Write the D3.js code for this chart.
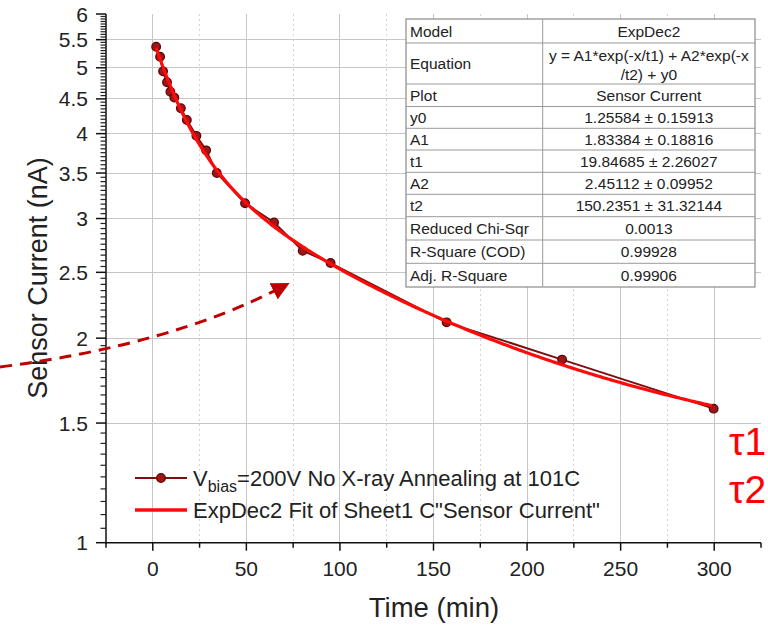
<!DOCTYPE html>
<meta charset="utf-8">
<style>
body { margin: 0; background: #fff; }
svg text { font-family: "Liberation Sans", Arial, sans-serif; }
.grid line { shape-rendering: crispEdges; }
</style>
<body>
<script src="https://d3js.org/d3.v7.min.js"></script>
<script>

// measured points (Time in min, Sensor Current in nA)
var times = [1.8, 3.9, 5.5, 7.6, 9.4, 11.5, 15, 18.2, 23.3, 28.5, 34.2, 49.3, 64.8, 80.1, 95, 157, 218.7, 299.7];
var currents = [5.37, 5.19, 4.94, 4.76, 4.61, 4.52, 4.36, 4.19, 3.97, 3.78, 3.50, 3.16, 2.96, 2.69, 2.58, 2.11, 1.86, 1.575];

// ExpDec2 fit parameters
var fitNames = ["y0", "A1", "t1", "A2", "t2"];
var fitValues = [1.25584, 1.83384, 19.84685, 2.45112, 150.2351];

var tableLabels = ["Model", "Equation", "Plot", "y0", "A1", "t1", "A2", "t2", "Reduced Chi-Sqr", "R-Square (COD)", "Adj. R-Square"];
var tableValues = ["ExpDec2", ["y = A1*exp(-x/t1) + A2*exp(-x", "/t2) + y0"], "Sensor Current",
  "1.25584 ± 0.15913", "1.83384 ± 0.18816", "19.84685 ± 2.26027", "2.45112 ± 0.09952",
  "150.2351 ± 31.32144", "0.0013", "0.99928", "0.99906"];

var xMajor = [0, 50, 100, 150, 200, 250, 300];
var yMajor = [1, 1.5, 2, 2.5, 3, 3.5, 4, 4.5, 5, 5.5, 6];

var width = 768, height = 629;
var svg = d3.select("body").append("svg").attr("width", width).attr("height", height);

var x = d3.scaleLinear().domain([-25, 325]).range([106, 761]);
var y = d3.scaleLog().domain([1, 6]).range([542.7, 14]);

var xMinor = d3.range(-25, 326, 25).filter(function(d) { return xMajor.indexOf(d) < 0; });
var yMinor = d3.range(20, 121, 1).map(function(d) { return d / 20; }).filter(function(d) { return Math.round(d * 2) !== d * 2; });

// grid
var grid = svg.append("g").attr("class", "grid");
grid.selectAll(".vmin").data(xMinor.filter(function(d) { return d > -25 && d < 325; })).enter().append("line")
    .attr("x1", x).attr("x2", x).attr("y1", y(6)).attr("y2", y(1))
    .attr("stroke", "#d4d4d4").attr("stroke-dasharray", "2,3");
grid.selectAll(".vmaj").data(xMajor).enter().append("line")
    .attr("x1", x).attr("x2", x).attr("y1", y(6)).attr("y2", y(1))
    .attr("stroke", "#c6c6c6");
grid.selectAll(".hmaj").data(yMajor.filter(function(d) { return d > 1 && d < 6; })).enter().append("line")
    .attr("x1", x(-25)).attr("x2", x(325)).attr("y1", y).attr("y2", y)
    .attr("stroke", "#c6c6c6");

// fit table
var tx0 = 406, tx1 = 542.7, tx2 = 755;
var rowEdges = [19, 43, 84, 106.5, 128.3, 150, 172.3, 194.3, 216.7, 240, 263.3, 287];
var table = svg.append("g");
table.append("rect").attr("x", tx0).attr("y", rowEdges[0]).attr("width", tx2 - tx0)
    .attr("height", rowEdges[11] - rowEdges[0]).attr("fill", "#fff").attr("stroke", "#8a8a8a").attr("stroke-width", 1.2);
table.selectAll(".rl").data(rowEdges.slice(1, 11)).enter().append("line")
    .attr("x1", tx0).attr("x2", tx2).attr("y1", function(d) { return d; }).attr("y2", function(d) { return d; })
    .attr("stroke", "#9a9a9a");
table.append("line").attr("x1", tx1).attr("x2", tx1).attr("y1", rowEdges[0]).attr("y2", rowEdges[11]).attr("stroke", "#9a9a9a");
tableLabels.forEach(function(lab, i) {
  var cy = (rowEdges[i] + rowEdges[i + 1]) / 2;
  table.append("text").attr("x", tx0 + 4).attr("y", cy + 5.5).attr("font-size", 15.5).attr("fill", "#222").text(lab);
  var v = tableValues[i];
  if (Array.isArray(v)) {
    table.append("text").attr("x", (tx1 + tx2) / 2).attr("y", cy - 3).attr("text-anchor", "middle")
        .attr("font-size", 15.5).attr("fill", "#222").text(v[0]);
    table.append("text").attr("x", (tx1 + tx2) / 2).attr("y", cy + 16).attr("text-anchor", "middle")
        .attr("font-size", 15.5).attr("fill", "#222").text(v[1]);
  } else {
    table.append("text").attr("x", (tx1 + tx2) / 2).attr("y", cy + 5.5).attr("text-anchor", "middle")
        .attr("font-size", 15.5).attr("fill", "#222").text(v);
  }
});

// axes
var axisG = svg.append("g");
axisG.append("line").attr("x1", x(-25)).attr("x2", x(325)).attr("y1", y(1)).attr("y2", y(1)).attr("stroke", "#111").attr("stroke-width", 1.5);
axisG.append("line").attr("x1", x(-25)).attr("x2", x(-25)).attr("y1", y(1) + 1).attr("y2", y(6)).attr("stroke", "#111").attr("stroke-width", 1.5);

axisG.selectAll(".xt").data(xMajor).enter().append("line")
    .attr("x1", x).attr("x2", x).attr("y1", y(1)).attr("y2", y(1) + 8).attr("stroke", "#111").attr("stroke-width", 1.5);
axisG.selectAll(".xm").data(xMinor).enter().append("line")
    .attr("x1", x).attr("x2", x).attr("y1", y(1)).attr("y2", y(1) + 5).attr("stroke", "#111").attr("stroke-width", 1.5);
axisG.selectAll(".xl").data(xMajor).enter().append("text")
    .attr("x", x).attr("y", y(1) + 33).attr("text-anchor", "middle").attr("font-size", 21).attr("fill", "#222")
    .text(function(d) { return d; });

axisG.selectAll(".yt").data(yMajor).enter().append("line")
    .attr("x1", x(-25) - 10).attr("x2", x(-25)).attr("y1", y).attr("y2", y).attr("stroke", "#111").attr("stroke-width", 1.5);
axisG.selectAll(".ym").data(yMinor).enter().append("line")
    .attr("x1", x(-25) - 5.5).attr("x2", x(-25)).attr("y1", y).attr("y2", y).attr("stroke", "#222").attr("stroke-width", 1.2);
axisG.selectAll(".yl").data(yMajor).enter().append("text")
    .attr("x", x(-25) - 18).attr("y", function(d) { return y(d) + 7.5; }).attr("text-anchor", "end")
    .attr("font-size", 21).attr("fill", "#222").text(function(d) { return d; });

svg.append("text").attr("x", 434).attr("y", 617).attr("text-anchor", "middle").attr("font-size", 27.5).attr("fill", "#222").text("Time (min)");
svg.append("text").attr("transform", "translate(47,278) rotate(-90)").attr("text-anchor", "middle")
    .attr("font-size", 27).attr("fill", "#222").text("Sensor Current (nA)");

// data line and fit curve
var fitFn = function(t) {
  return fitValues[0] + fitValues[1] * Math.exp(-t / fitValues[2]) + fitValues[3] * Math.exp(-t / fitValues[4]);
};
var pts = times.map(function(t, i) { return [t, currents[i]]; });
var line = d3.line().x(function(d) { return x(d[0]); }).y(function(d) { return y(d[1]); });

svg.append("path").datum(pts).attr("d", line).attr("fill", "none").attr("stroke", "#7a0f0f").attr("stroke-width", 2);
svg.selectAll(".pt").data(pts).enter().append("circle")
    .attr("cx", function(d) { return x(d[0]); }).attr("cy", function(d) { return y(d[1]); }).attr("r", 4.3)
    .attr("fill", "#a01515").attr("stroke", "#5a0808").attr("stroke-width", 1.3);

var fitX = d3.range(times[0], times[times.length - 1] + 0.01, 1);
svg.append("path").datum(fitX.map(function(t) { return [t, fitFn(t)]; })).attr("d", line)
    .attr("fill", "none").attr("stroke", "#ff0a0a").attr("stroke-width", 3.2);

// legend
var lg = svg.append("g");
lg.append("line").attr("x1", 135).attr("x2", 187).attr("y1", 478).attr("y2", 478).attr("stroke", "#7a0f0f").attr("stroke-width", 2);
lg.append("circle").attr("cx", 161).attr("cy", 478).attr("r", 4.3).attr("fill", "#a01515").attr("stroke", "#5a0808").attr("stroke-width", 1.3);
lg.append("line").attr("x1", 135).attr("x2", 187).attr("y1", 510).attr("y2", 510).attr("stroke", "#ff0a0a").attr("stroke-width", 3.5);
var t1 = lg.append("text").attr("x", 193).attr("y", 486).attr("font-size", 22).attr("fill", "#222");
t1.append("tspan").text("V");
t1.append("tspan").attr("font-size", 16).attr("dy", 6).text("bias");
t1.append("tspan").attr("dy", -6).text("=200V No X-ray Annealing at 101C");
lg.append("text").attr("x", 193).attr("y", 518).attr("font-size", 22).attr("fill", "#222").text("ExpDec2 Fit of Sheet1 C\"Sensor Current\"");

// annotation arrow
var defs = svg.append("defs");
defs.append("marker").attr("id", "ah").attr("viewBox", "0 0 10 10").attr("refX", 4).attr("refY", 5)
    .attr("markerWidth", 6).attr("markerHeight", 6).attr("orient", "auto")
  .append("path").attr("d", "M0,0 L10,5 L0,10 z").attr("fill", "#c00000");
svg.append("path").attr("d", "M0,367 Q170,345 280,288").attr("fill", "none").attr("stroke", "#c00000")
    .attr("stroke-width", 3).attr("stroke-dasharray", "12,8").attr("marker-end", "url(#ah)");

svg.append("text").attr("x", 729).attr("y", 455).attr("font-size", 39).attr("fill", "#ff0000").text("τ1");
svg.append("text").attr("x", 729).attr("y", 503).attr("font-size", 39).attr("fill", "#ff0000").text("τ2");

</script>
</body>
